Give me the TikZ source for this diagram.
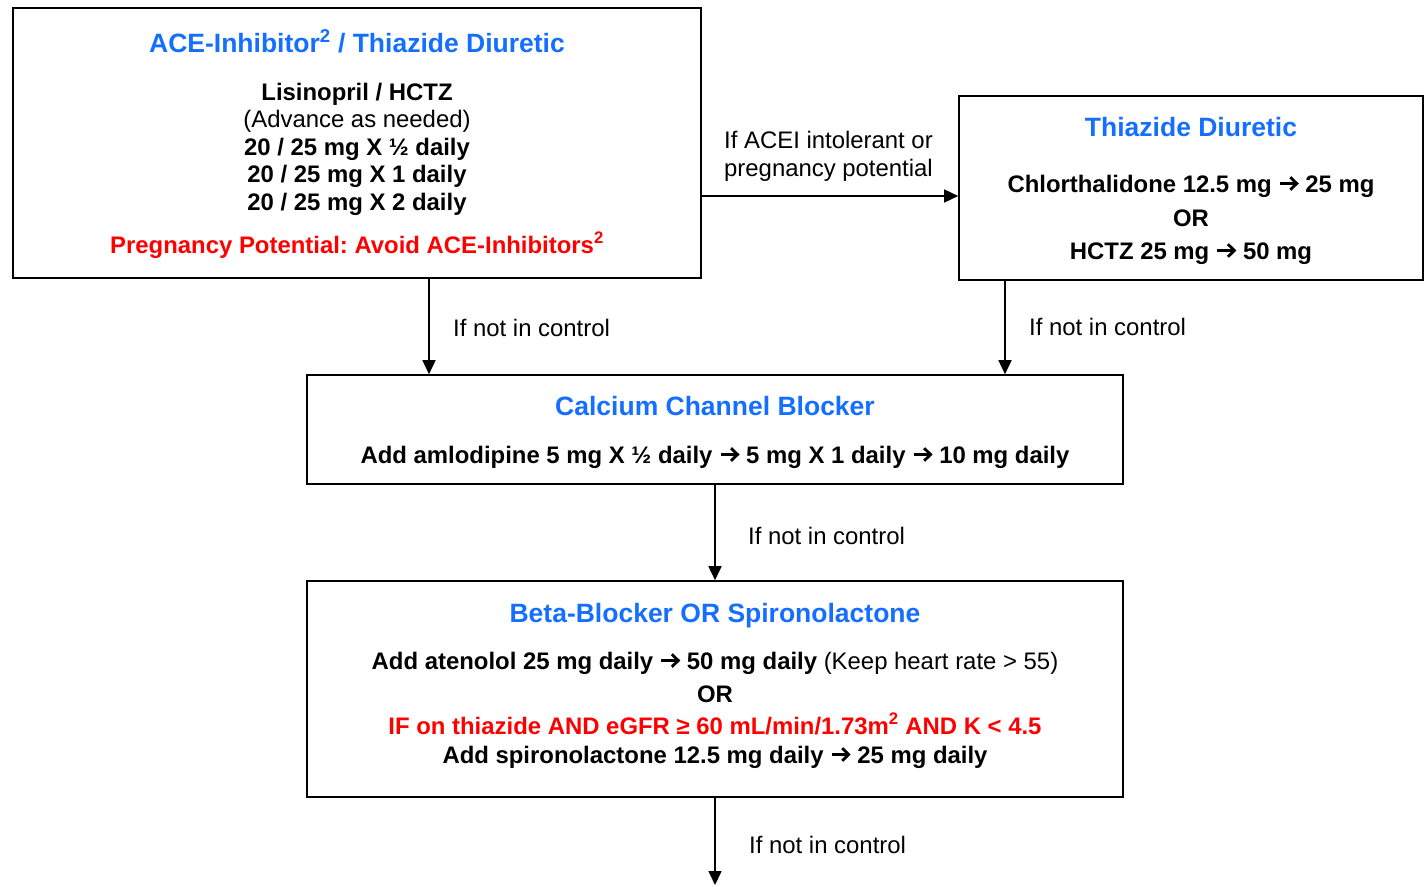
\documentclass[tikz,border=0pt]{standalone}
\usepackage{fontspec}
\setmainfont{Liberation Sans}
\usetikzlibrary{arrows.meta}
\frenchspacing
\definecolor{tblue}{RGB}{20,110,255}
\definecolor{tred}{RGB}{255,0,0}
\newcommand{\ar}{\tikz[baseline=0pt, x=1pt, y=1pt, line width=2.8pt]{\path (-1,0) rectangle (19,1); \draw (0,8.5)--(16.5,8.5); \draw[miter limit=10] (10.5,2.2)--(17,8.5)--(10.5,14.8);}}
\tikzset{
  box/.style={draw=black, line width=1.6pt, inner sep=0pt, fill=white},
  ttl/.style={anchor=base, inner sep=0pt, text=tblue, font=\fontsize{26.5}{30}\selectfont\bfseries},
  txt/.style={anchor=base, inner sep=0pt, font=\fontsize{23.9}{28}\selectfont},
  btxt/.style={anchor=base, inner sep=0pt, font=\fontsize{23.9}{28}\selectfont\bfseries},
  rtxt/.style={btxt, text=tred},
  lbl/.style={anchor=base west, inner sep=0pt, font=\fontsize{23.9}{28}\selectfont},
  conn/.style={line width=1.6pt, -{Triangle[length=14pt,width=13pt]}}
}
\begin{document}
\begin{tikzpicture}[x=1pt,y=-1pt]
\useasboundingbox (0,0) rectangle (1426,886);
% boxes
\node[box, minimum width=688, minimum height=270] (ace) at (357,143) {};
\node[box, minimum width=464, minimum height=184] (thz) at (1191,188) {};
\node[box, minimum width=816, minimum height=109] (ccb) at (715,429.5) {};
\node[box, minimum width=816, minimum height=216] (bb) at (715,689) {};
% box 1 text
\node[ttl] (t1) at (357,52) {ACE-Inhibitor\textsuperscript{2} / Thiazide Diuretic};
\node[btxt] (l1) at (357,100) {Lisinopril / HCTZ};
\node[txt] (l2) at (357,127) {(Advance as needed)};
\node[btxt] (l3) at (357,155) {20 / 25 mg X ½ daily};
\node[btxt] (l4) at (357,182) {20 / 25 mg X 1 daily};
\node[btxt] (l5) at (357,210) {20 / 25 mg X 2 daily};
\node[rtxt] (l6) at (357,253) {Pregnancy Potential: Avoid ACE-Inhibitors\textsuperscript{2}};
% box 2 text
\node[ttl] (t2) at (1191,136) {Thiazide Diuretic};
\node[btxt] (m1) at (1191,192) {Chlorthalidone 12.5 mg \ar{} 25 mg};
\node[btxt] (m2) at (1191,226) {OR};
\node[btxt] (m3) at (1191,259) {HCTZ 25 mg \ar{} 50 mg};
% box 3 text
\node[ttl] (t3) at (715,415) {Calcium Channel Blocker};
\node[btxt] (c1) at (715,463) {Add amlodipine 5 mg X ½ daily \ar{} 5 mg X 1 daily \ar{} 10 mg daily};
% box 4 text
\node[ttl] (t4) at (715,622) {Beta-Blocker OR Spironolactone};
\node[btxt] (b1) at (715,669) {Add atenolol 25 mg daily \ar{} 50 mg daily \mdseries(Keep heart rate > 55)};
\node[btxt] (b2) at (715,702) {OR};
\node[rtxt] (b3) at (715,734) {IF on thiazide AND eGFR ≥ 60 mL/min/1.73m\textsuperscript{2} AND K < 4.5};
\node[btxt] (b4) at (715,763) {Add spironolactone 12.5 mg daily \ar{} 25 mg daily};
% connector guide coordinates
\coordinate (xa) at (429,0);
\coordinate (xb) at (1005,0);
\coordinate (xc) at (715,0);
\coordinate (yh) at (0,196);
\coordinate (endp) at (715,885);
% connectors
\draw[conn] (ace.south -| xa) -- (ccb.north -| xa);
\draw[conn] (thz.south -| xb) -- (ccb.north -| xb);
\draw[conn] (ace.east |- yh) -- (thz.west |- yh);
\draw[conn] (ccb.south -| xc) -- (bb.north -| xc);
\draw[conn] (bb.south -| xc) -- (endp);
% labels
\node[lbl] (la) at (453,336) {If not in control};
\node[lbl] (lb) at (1029,335) {If not in control};
\node[lbl] (lc) at (748,544) {If not in control};
\node[lbl] (ld) at (749,853) {If not in control};
\node[lbl] (le) at (724,148) {If ACEI intolerant or};
\node[lbl] (lf) at (724,176) {pregnancy potential};
\end{tikzpicture}
\end{document}
